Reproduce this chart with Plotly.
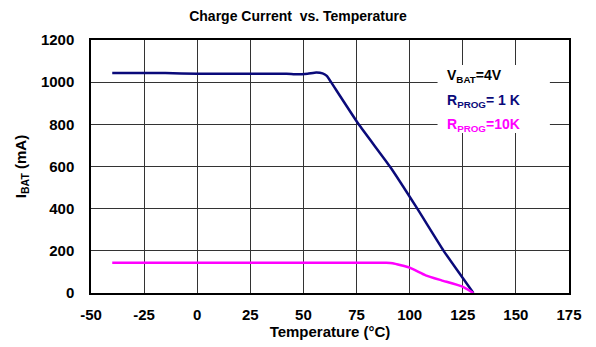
import plotly.graph_objects as go

temp_1k = [-40, -15, 0, 25, 42, 47, 52, 56, 59, 61, 63, 76, 90.7, 103.6, 116, 125, 130]
cur_1k = [1043, 1043, 1040, 1040, 1040, 1037, 1040, 1046, 1042, 1030, 1000, 800, 600, 400, 200, 71, 0]

temp_10k = [-40, 0, 50, 89, 92, 100, 107.5, 115, 124.6, 130]
cur_10k = [143, 143, 143, 143, 141, 120, 84, 60, 31, 0]

x_ticks = [-50, -25, 0, 25, 50, 75, 100, 125, 150, 175]
y_ticks = [0, 200, 400, 600, 800, 1000, 1200]

FONT = "Liberation Sans, Arial, sans-serif"

fig = go.Figure()
fig.add_trace(go.Scatter(x=temp_1k, y=cur_1k, mode="lines",
                         line=dict(color="#0A0A7A", width=2.5, shape="spline", smoothing=0.4)))
fig.add_trace(go.Scatter(x=temp_10k, y=cur_10k, mode="lines",
                         line=dict(color="#FF00FF", width=2.5, shape="spline", smoothing=0.4)))

fig.update_layout(
    width=596, height=347,
    margin=dict(l=91, r=27, t=40, b=54),
    paper_bgcolor="white", plot_bgcolor="white",
    showlegend=False,
    font=dict(family=FONT, color="black"),
    title=dict(text="<b>Charge Current  vs. Temperature</b>", x=0.5, xanchor="center",
               y=0.953, yanchor="middle", font=dict(size=14)),
)
fig.update_xaxes(range=[-50, 175], tickvals=x_ticks, ticktext=[str(v) for v in x_ticks],
                 showgrid=True, gridcolor="#333333", gridwidth=1,
                 showline=True, linecolor="black", linewidth=1.5, mirror=True,
                 zeroline=False, ticks="", ticklabelstandoff=7, automargin=False,
                 tickfont=dict(size=15, weight="bold"),
                 title=dict(text="<b>Temperature (°C)</b>", font=dict(size=15), standoff=5))
fig.update_yaxes(range=[0, 1200], tickvals=y_ticks,
                 showgrid=True, gridcolor="#333333", gridwidth=1,
                 showline=True, linecolor="black", linewidth=1.5, mirror=True,
                 zeroline=False, ticks="", ticklabelstandoff=12, automargin=False,
                 tickfont=dict(size=15, weight="bold"),
                 title=dict(text="<b>I<sub>BAT</sub> (mA)</b>", font=dict(size=15), standoff=11))

fig.add_shape(type="rect", xref="paper", yref="paper", x0=0.725, x1=0.96, y0=0.632, y1=0.901,
              fillcolor="white", line=dict(width=0), layer="above")

labels = [("<b>V<sub>BAT</sub>=4V</b>", "black", 0.859),
          ("<b>R<sub>PROG</sub>= 1 K</b>", "#0A0A7A", 0.760),
          ("<b>R<sub>PROG</sub>=10K</b>", "#FF00FF", 0.664)]
for txt, col, yy in labels:
    fig.add_annotation(text=txt, xref="paper", yref="paper", x=0.740, y=yy,
                       xanchor="left", yanchor="middle",
                       showarrow=False, font=dict(size=14, color=col))

fig.write_html("out.html")
